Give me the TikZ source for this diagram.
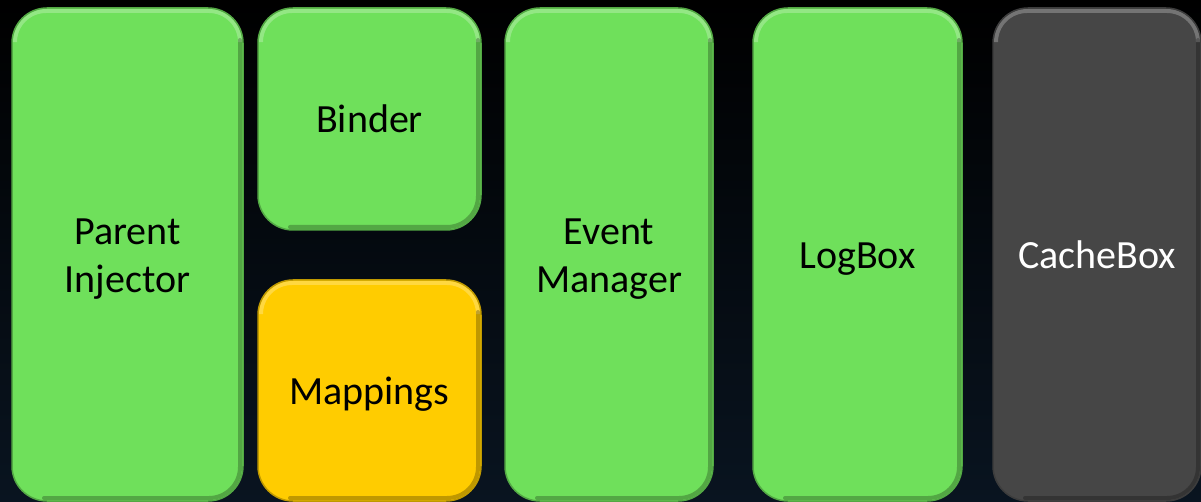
\documentclass[tikz,border=0pt]{standalone}
\usepackage{fontspec}
\setmainfont{Carlito}
\usetikzlibrary{positioning}
\definecolor{boxgreen}{RGB}{111,224,91}
\definecolor{boxyellow}{RGB}{255,204,0}
\definecolor{boxgray}{RGB}{70,70,70}
\definecolor{bgnavy}{RGB}{9,20,32}
\newcommand{\boxstrut}{\rule[-10pt]{0pt}{48pt}}
\newcommand{\topstrut}{\rule{0pt}{39pt}}
\tikzset{
  bevel/.style={path picture={
    \draw[white, opacity=.25, line width=4pt, line cap=round, rounded corners=31pt]
      ([shift={(3pt,-32pt)}]path picture bounding box.north west) |- ([shift={(-3pt,-3pt)}]path picture bounding box.north east) -- ++(0,-29pt);
    \draw[black, opacity=.25, line width=4pt, line cap=round, rounded corners=31pt]
      ([shift={(-3pt,-32pt)}]path picture bounding box.north east) |- ([shift={(32pt,3pt)}]path picture bounding box.south west);
  }},
  module/.style={rounded corners=35pt, inner sep=0pt, outer sep=0pt, align=center,
    font=\fontsize{40}{48}\selectfont, line width=1.5pt, bevel,
    execute at begin node=\boxstrut, execute at end node=\boxstrut},
  greenbox/.style={module, fill=boxgreen, draw=boxgreen!75!black},
  yellowbox/.style={module, fill=boxyellow, draw=boxyellow!75!black},
  graybox/.style={module, fill=boxgray, draw=boxgray!85!black, text=white}
}
\begin{document}
\begin{tikzpicture}[x=1pt, y=-1pt, node distance=1cm]
\useasboundingbox (0,0) rectangle (1201,502);
\shade[top color=black, middle color=black, bottom color=bgnavy] (0,0) rectangle (1201,502);
\node (P) [greenbox, minimum width=231pt, minimum height=493pt, anchor=north west] at (12,8) {\topstrut Parent\\Injector};
  \node (B) [greenbox, minimum width=223pt, minimum height=222pt, right=15pt of P.north east, anchor=north west] {Binder};
  \node (M) [yellowbox, minimum width=223pt, minimum height=221pt, below=50pt of B] {Mappings};
  \node (E) [greenbox, minimum width=208pt, minimum height=493pt, right=24pt of B.north east, anchor=north west] {\topstrut Event\\Manager};
  \node (L) [greenbox, minimum width=209pt, minimum height=493pt, right=40pt of E] {LogBox};
  \node (C) [graybox, minimum width=208pt, minimum height=493pt, right=31pt of L] {CacheBox};
\end{tikzpicture}
\end{document}
